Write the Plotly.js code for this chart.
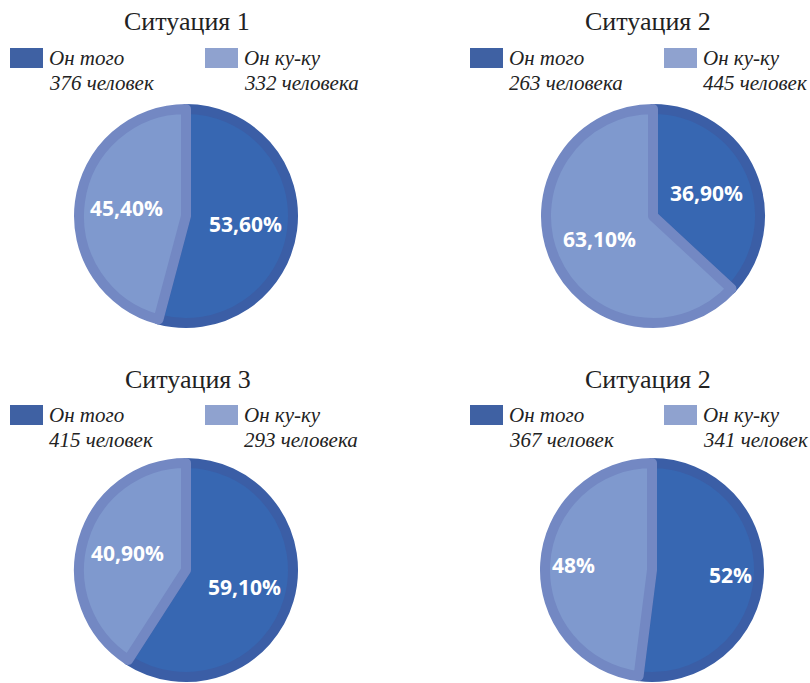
<!DOCTYPE html>
<html>
<head>
<meta charset="utf-8">
<script src="https://cdn.plot.ly/plotly-3.0.1.min.js"></script>
<style>
  html, body { margin: 0; padding: 0; background: #ffffff; }
  #chart { width: 810px; height: 683px; }
</style>
</head>
<body>
<div id="chart"></div>
<script>
// ---- data ----
const titles = ['Ситуация 1', 'Ситуация 2', 'Ситуация 3', 'Ситуация 2'];
const categories = ['Он того', 'Он ку-ку'];

const sit1Pct = [53.6, 45.4];
const sit2Pct = [36.9, 63.1];
const sit3Pct = [59.1, 40.9];
const sit4Pct = [52, 48];

const sit1Labels = ['53,60%', '45,40%'];
const sit2Labels = ['36,90%', '63,10%'];
const sit3Labels = ['59,10%', '40,90%'];
const sit4Labels = ['52%', '48%'];

const sit1Counts = ['376 человек', '332 человека'];
const sit2Counts = ['263 человека', '445 человек'];
const sit3Counts = ['415 человек', '293 человека'];
const sit4Counts = ['367 человек', '341 человек'];

// ---- styles / layout constants ----
const W = 810, H = 683;
const fillColors = ['#3767B2', '#7F99CE'];
const borderColors = ['#3B5EA6', '#7388C3'];
const swatchColors = ['#3F61A3', '#8FA2CF'];
const R = 107;       // pie path radius (px)
const LINE = 10;     // border width (px)

const panels = [
  {pct: sit1Pct, labels: sit1Labels, counts: sit1Counts, cx: 186, cy: 216, labelR: 60, tx: 187, ty: 22, lx: [10, 205], ly: 48},
  {pct: sit2Pct, labels: sit2Labels, counts: sit2Counts, cx: 653, cy: 216, labelR: 58, tx: 648, ty: 22, lx: [470, 664], ly: 48},
  {pct: sit3Pct, labels: sit3Labels, counts: sit3Counts, cx: 186, cy: 570, labelR: 61, tx: 188, ty: 379, lx: [10, 205], ly: 405},
  {pct: sit4Pct, labels: sit4Labels, counts: sit4Counts, cx: 652, cy: 570, labelR: 79, tx: 648, ty: 379, lx: [470, 664], ly: 405}
];

const px = v => v / W;
const py = v => 1 - v / H;

const traces = [];
const annotations = [];
const shapes = [];

panels.forEach((p, i) => {
  traces.push({
    type: 'pie',
    values: p.pct,
    labels: categories,
    textinfo: 'none',
    sort: false,
    direction: 'clockwise',
    rotation: 0,
    hoverinfo: 'none',
    showlegend: false,
    marker: {colors: fillColors, line: {color: borderColors, width: LINE}},
    domain: {
      x: [px(p.cx - R), px(p.cx + R)],
      y: [py(p.cy + R), py(p.cy - R)]
    }
  });

  // slice labels at each slice's mid-angle
  const total = p.pct.reduce((a, b) => a + b, 0);
  let cum = 0;
  p.pct.forEach((v, k) => {
    const a = (cum + v / 2) / total * 2 * Math.PI;
    cum += v;
    annotations.push({
      xref: 'paper', yref: 'paper',
      x: px(p.cx + p.labelR * Math.sin(a)),
      y: py(p.cy - p.labelR * Math.cos(a)),
      xanchor: 'center', yanchor: 'middle',
      text: '<b>' + p.labels[k] + '</b>',
      showarrow: false,
      font: {family: 'Open Sans', size: 21, color: '#ffffff'}
    });
  });

  annotations.push({
    xref: 'paper', yref: 'paper',
    x: px(p.tx), y: py(p.ty),
    xanchor: 'center', yanchor: 'middle',
    text: titles[i],
    showarrow: false,
    font: {family: 'Liberation Serif', size: 26, color: '#222222'}
  });

  categories.forEach((c, k) => {
    const x0 = p.lx[k];
    shapes.push({
      type: 'rect', xref: 'paper', yref: 'paper',
      x0: px(x0), x1: px(x0 + 33),
      y0: py(p.ly + 20), y1: py(p.ly),
      fillcolor: swatchColors[k], line: {width: 0}
    });
    annotations.push({
      xref: 'paper', yref: 'paper',
      x: px(x0 + 37), y: py(p.ly + 10),
      xanchor: 'left', yanchor: 'middle',
      text: c, showarrow: false,
      font: {family: 'Liberation Serif', size: 21, color: '#222222', style: 'italic'}
    });
    annotations.push({
      xref: 'paper', yref: 'paper',
      x: px(x0 + 37), y: py(p.ly + 35),
      xanchor: 'left', yanchor: 'middle',
      text: p.counts[k], showarrow: false,
      font: {family: 'Liberation Serif', size: 21, color: '#222222', style: 'italic'}
    });
  });
});

const layout = {
  width: W, height: H,
  margin: {l: 0, r: 0, t: 0, b: 0},
  paper_bgcolor: '#ffffff',
  plot_bgcolor: '#ffffff',
  annotations: annotations,
  shapes: shapes
};

Plotly.newPlot('chart', traces, layout, {displayModeBar: false, staticPlot: true});
</script>
</body>
</html>
